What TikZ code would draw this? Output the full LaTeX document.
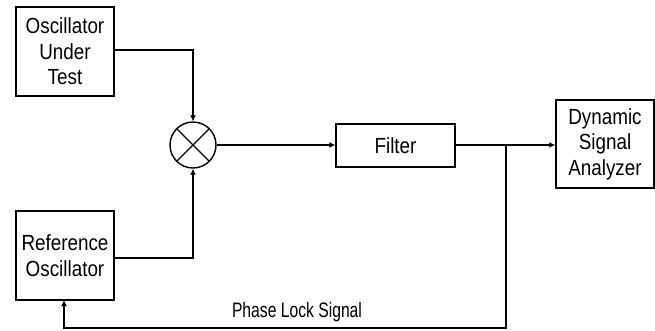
\documentclass[tikz,border=0pt]{standalone}
\usepackage{fontspec}
\setmainfont[FakeStretch=0.86]{Liberation Sans}
\newfontfamily\labelfont[FakeStretch=0.75]{Liberation Sans}
\usetikzlibrary{arrows.meta,calc}
\tikzset{
  block/.style={draw=black,line width=1.4bp,fill=white,inner sep=0pt,align=center,font=\fontsize{22}{25.7}\selectfont},
  conn/.style={draw=black,line width=1.4bp},
  arr/.style={conn,-{Latex[length=6bp,width=6bp]},shorten >=0bp},
}
\begin{document}
\begin{tikzpicture}[x=1bp,y=-1bp]
\useasboundingbox[fill=white] (0,0) rectangle (655,330);
\node[block,minimum width=98bp,minimum height=89bp] (osc) at (65,51.5) {Oscillator\\Under\\Test};
\node[block,minimum width=98bp,minimum height=89bp] (ref) at (65,255.5) {Reference\\Oscillator};
\node[draw=black,line width=1.4bp,circle,minimum size=46bp,inner sep=0pt] (mix) at (193,145) {};
\node[block,minimum width=119bp,minimum height=43bp] (filt) at (395.5,145.5) {Filter};
\node[block,minimum width=98bp,minimum height=88bp] (dsa) at (605,144) {Dynamic\\Signal\\Analyzer};
\draw[conn] (mix.45) -- (mix.225);
\draw[conn] (mix.135) -- (mix.315);
\draw[arr] (osc.east |- 0,50) -| (mix.north);
\draw[arr] (ref.east |- 0,258) -| (mix.south);
\draw[arr] (mix.east) -- (mix.east -| filt.west);
\draw[arr] (mix.east -| filt.east) -- (mix.east -| dsa.west);
\coordinate (branch) at (506,145);
\coordinate (low) at (506,328);
\draw[arr] (branch) -- (low) -- (64,328) -- (64,300);
\node[inner sep=0pt,font=\labelfont\fontsize{21}{24}\selectfont] (pll) at (297,312.5) {Phase Lock Signal};
\end{tikzpicture}
\end{document}
